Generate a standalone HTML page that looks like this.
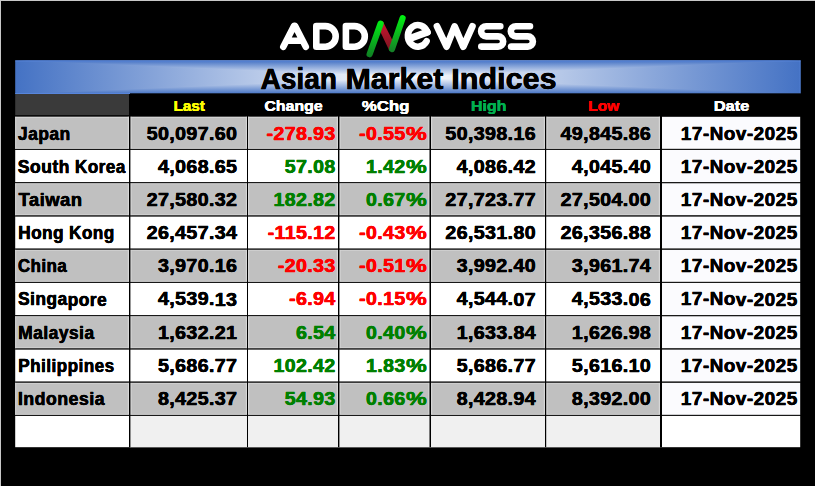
<!DOCTYPE html>
<html><head><meta charset="utf-8"><title>Asian Market Indices</title>
<style>
html,body{margin:0;padding:0;background:#000;}
body{width:815px;height:486px;position:relative;overflow:hidden;font-family:"Liberation Sans",sans-serif;font-weight:bold;}
svg{position:absolute;left:0;top:0;}
.t{position:absolute;left:0;top:0;white-space:nowrap;display:block;line-height:1;transform-origin:0 0;-webkit-text-stroke:0.3px currentColor;text-shadow:0.15px 0 0 currentColor,-0.15px 0 0 currentColor;}
.b{font-size:18.0px;color:#000;}
.n{letter-spacing:0.3px;}
.l{letter-spacing:0.5px;}
.h{font-size:15.4px;-webkit-text-stroke:0.12px currentColor;text-shadow:0.12px 0 0 currentColor,-0.12px 0 0 currentColor;}
.r{color:#ff0000}.g{color:#008000}
</style></head><body>

<svg width="815" height="486" viewBox="0 0 815 486">
<defs>
<linearGradient id="gg1" gradientUnits="userSpaceOnUse" x1="0" y1="21" x2="0" y2="57"><stop offset="0" stop-color="#00ee14"/><stop offset="1" stop-color="#107e24"/></linearGradient>
<linearGradient id="gg2" gradientUnits="userSpaceOnUse" x1="0" y1="15" x2="0" y2="52"><stop offset="0" stop-color="#00f410"/><stop offset="1" stop-color="#167e28"/></linearGradient>
<linearGradient id="gr" gradientUnits="userSpaceOnUse" x1="0" y1="22" x2="0" y2="50"><stop offset="0" stop-color="#cc1430"/><stop offset="1" stop-color="#7c1620"/></linearGradient>
<linearGradient id="bh" gradientUnits="userSpaceOnUse" x1="15.2" y1="0" x2="800.6" y2="0"><stop offset="0" stop-color="#4472c4"/><stop offset="0.5" stop-color="#ffffff"/><stop offset="1" stop-color="#4472c4"/></linearGradient>
<linearGradient id="bt" gradientUnits="userSpaceOnUse" x1="0" y1="60.4" x2="0" y2="77.2"><stop offset="0" stop-color="#4472c4"/><stop offset="1" stop-color="#ffffff"/></linearGradient>
<linearGradient id="bb" gradientUnits="userSpaceOnUse" x1="0" y1="94" x2="0" y2="77.2"><stop offset="0" stop-color="#4472c4"/><stop offset="1" stop-color="#ffffff"/></linearGradient>
</defs>
<rect x="0" y="0" width="815" height="1" fill="#c8c8c8"/><rect x="0" y="0" width="1" height="486" fill="#c8c8c8"/>
<rect x="15.2" y="60.4" width="785.4" height="33.6" fill="url(#bh)"/>
<polygon points="15.2,60.4 800.6,60.4 407.9,77.2" fill="url(#bt)"/>
<polygon points="15.2,94 800.6,94 407.9,77.2" fill="url(#bb)"/>
<rect x="15.2" y="60.4" width="785.4" height="1" fill="#5b8ae0" opacity="0.8"/>
<rect x="15.2" y="93" width="785.4" height="1" fill="#5b8ae0" opacity="0.8"/>
<rect x="799.6" y="60.4" width="1" height="33.6" fill="#5b8ae0" opacity="0.6"/>
<rect x="130" y="93.3" width="671" height="23" fill="#000"/>
<rect x="15.2" y="94" width="113.8" height="21.2" fill="#3a3a3a"/>
<rect x="15.2" y="116.80" width="644.8" height="32.10" fill="#c0c0c0"/>
<rect x="660" y="116.80" width="140.20000000000005" height="32.10" fill="#fbfbfe"/>
<rect x="15.2" y="149.90" width="644.8" height="32.25" fill="#ffffff"/>
<rect x="660" y="149.90" width="140.20000000000005" height="32.25" fill="#fbfbfe"/>
<rect x="15.2" y="183.15" width="644.8" height="32.25" fill="#c0c0c0"/>
<rect x="660" y="183.15" width="140.20000000000005" height="32.25" fill="#fbfbfe"/>
<rect x="15.2" y="216.40" width="644.8" height="32.25" fill="#ffffff"/>
<rect x="660" y="216.40" width="140.20000000000005" height="32.25" fill="#fbfbfe"/>
<rect x="15.2" y="249.65" width="644.8" height="32.25" fill="#c0c0c0"/>
<rect x="660" y="249.65" width="140.20000000000005" height="32.25" fill="#fbfbfe"/>
<rect x="15.2" y="282.90" width="644.8" height="32.25" fill="#ffffff"/>
<rect x="660" y="282.90" width="140.20000000000005" height="32.25" fill="#fbfbfe"/>
<rect x="15.2" y="316.15" width="644.8" height="32.25" fill="#c0c0c0"/>
<rect x="660" y="316.15" width="140.20000000000005" height="32.25" fill="#fbfbfe"/>
<rect x="15.2" y="349.40" width="644.8" height="32.25" fill="#ffffff"/>
<rect x="660" y="349.40" width="140.20000000000005" height="32.25" fill="#fbfbfe"/>
<rect x="15.2" y="382.65" width="644.8" height="32.25" fill="#c0c0c0"/>
<rect x="660" y="382.65" width="140.20000000000005" height="32.25" fill="#fbfbfe"/>
<rect x="15.2" y="415.90" width="785.0" height="31.30" fill="#ffffff"/>
<rect x="130" y="415.90" width="530" height="31.30" fill="#f0f0f0"/>
<rect x="15.2" y="116.80" width="644.8" height="1" fill="#d6d6d6"/>
<rect x="15.2" y="147.90" width="644.8" height="1" fill="#d6d6d6"/>
<rect x="127.80" y="116.80" width="1.2" height="32.10" fill="#d6d6d6"/>
<rect x="130.40" y="116.80" width="1.2" height="32.10" fill="#d6d6d6"/>
<rect x="245.80" y="116.80" width="1.2" height="32.10" fill="#d6d6d6"/>
<rect x="248.00" y="116.80" width="1.2" height="32.10" fill="#d6d6d6"/>
<rect x="336.80" y="116.80" width="1.2" height="32.10" fill="#d6d6d6"/>
<rect x="339.40" y="116.80" width="1.2" height="32.10" fill="#d6d6d6"/>
<rect x="428.30" y="116.80" width="1.2" height="32.10" fill="#d6d6d6"/>
<rect x="431.00" y="116.80" width="1.2" height="32.10" fill="#d6d6d6"/>
<rect x="543.80" y="116.80" width="1.2" height="32.10" fill="#d6d6d6"/>
<rect x="546.20" y="116.80" width="1.2" height="32.10" fill="#d6d6d6"/>
<rect x="658.80" y="116.80" width="1.2" height="32.10" fill="#d6d6d6"/>
<rect x="15.2" y="116.80" width="1" height="32.10" fill="#d6d6d6"/>
<rect x="15.2" y="183.15" width="644.8" height="1" fill="#d6d6d6"/>
<rect x="15.2" y="214.40" width="644.8" height="1" fill="#d6d6d6"/>
<rect x="127.80" y="183.15" width="1.2" height="32.25" fill="#d6d6d6"/>
<rect x="130.40" y="183.15" width="1.2" height="32.25" fill="#d6d6d6"/>
<rect x="245.80" y="183.15" width="1.2" height="32.25" fill="#d6d6d6"/>
<rect x="248.00" y="183.15" width="1.2" height="32.25" fill="#d6d6d6"/>
<rect x="336.80" y="183.15" width="1.2" height="32.25" fill="#d6d6d6"/>
<rect x="339.40" y="183.15" width="1.2" height="32.25" fill="#d6d6d6"/>
<rect x="428.30" y="183.15" width="1.2" height="32.25" fill="#d6d6d6"/>
<rect x="431.00" y="183.15" width="1.2" height="32.25" fill="#d6d6d6"/>
<rect x="543.80" y="183.15" width="1.2" height="32.25" fill="#d6d6d6"/>
<rect x="546.20" y="183.15" width="1.2" height="32.25" fill="#d6d6d6"/>
<rect x="658.80" y="183.15" width="1.2" height="32.25" fill="#d6d6d6"/>
<rect x="15.2" y="183.15" width="1" height="32.25" fill="#d6d6d6"/>
<rect x="15.2" y="249.65" width="644.8" height="1" fill="#d6d6d6"/>
<rect x="15.2" y="280.90" width="644.8" height="1" fill="#d6d6d6"/>
<rect x="127.80" y="249.65" width="1.2" height="32.25" fill="#d6d6d6"/>
<rect x="130.40" y="249.65" width="1.2" height="32.25" fill="#d6d6d6"/>
<rect x="245.80" y="249.65" width="1.2" height="32.25" fill="#d6d6d6"/>
<rect x="248.00" y="249.65" width="1.2" height="32.25" fill="#d6d6d6"/>
<rect x="336.80" y="249.65" width="1.2" height="32.25" fill="#d6d6d6"/>
<rect x="339.40" y="249.65" width="1.2" height="32.25" fill="#d6d6d6"/>
<rect x="428.30" y="249.65" width="1.2" height="32.25" fill="#d6d6d6"/>
<rect x="431.00" y="249.65" width="1.2" height="32.25" fill="#d6d6d6"/>
<rect x="543.80" y="249.65" width="1.2" height="32.25" fill="#d6d6d6"/>
<rect x="546.20" y="249.65" width="1.2" height="32.25" fill="#d6d6d6"/>
<rect x="658.80" y="249.65" width="1.2" height="32.25" fill="#d6d6d6"/>
<rect x="15.2" y="249.65" width="1" height="32.25" fill="#d6d6d6"/>
<rect x="15.2" y="316.15" width="644.8" height="1" fill="#d6d6d6"/>
<rect x="15.2" y="347.40" width="644.8" height="1" fill="#d6d6d6"/>
<rect x="127.80" y="316.15" width="1.2" height="32.25" fill="#d6d6d6"/>
<rect x="130.40" y="316.15" width="1.2" height="32.25" fill="#d6d6d6"/>
<rect x="245.80" y="316.15" width="1.2" height="32.25" fill="#d6d6d6"/>
<rect x="248.00" y="316.15" width="1.2" height="32.25" fill="#d6d6d6"/>
<rect x="336.80" y="316.15" width="1.2" height="32.25" fill="#d6d6d6"/>
<rect x="339.40" y="316.15" width="1.2" height="32.25" fill="#d6d6d6"/>
<rect x="428.30" y="316.15" width="1.2" height="32.25" fill="#d6d6d6"/>
<rect x="431.00" y="316.15" width="1.2" height="32.25" fill="#d6d6d6"/>
<rect x="543.80" y="316.15" width="1.2" height="32.25" fill="#d6d6d6"/>
<rect x="546.20" y="316.15" width="1.2" height="32.25" fill="#d6d6d6"/>
<rect x="658.80" y="316.15" width="1.2" height="32.25" fill="#d6d6d6"/>
<rect x="15.2" y="316.15" width="1" height="32.25" fill="#d6d6d6"/>
<rect x="15.2" y="382.65" width="644.8" height="1" fill="#d6d6d6"/>
<rect x="15.2" y="413.90" width="644.8" height="1" fill="#d6d6d6"/>
<rect x="127.80" y="382.65" width="1.2" height="32.25" fill="#d6d6d6"/>
<rect x="130.40" y="382.65" width="1.2" height="32.25" fill="#d6d6d6"/>
<rect x="245.80" y="382.65" width="1.2" height="32.25" fill="#d6d6d6"/>
<rect x="248.00" y="382.65" width="1.2" height="32.25" fill="#d6d6d6"/>
<rect x="336.80" y="382.65" width="1.2" height="32.25" fill="#d6d6d6"/>
<rect x="339.40" y="382.65" width="1.2" height="32.25" fill="#d6d6d6"/>
<rect x="428.30" y="382.65" width="1.2" height="32.25" fill="#d6d6d6"/>
<rect x="431.00" y="382.65" width="1.2" height="32.25" fill="#d6d6d6"/>
<rect x="543.80" y="382.65" width="1.2" height="32.25" fill="#d6d6d6"/>
<rect x="546.20" y="382.65" width="1.2" height="32.25" fill="#d6d6d6"/>
<rect x="658.80" y="382.65" width="1.2" height="32.25" fill="#d6d6d6"/>
<rect x="15.2" y="382.65" width="1" height="32.25" fill="#d6d6d6"/>
<rect x="15.2" y="148.90" width="785.0" height="1" fill="#181818"/>
<rect x="15.2" y="182.15" width="785.0" height="1" fill="#181818"/>
<rect x="15.2" y="215.40" width="785.0" height="1" fill="#181818"/>
<rect x="15.2" y="248.65" width="785.0" height="1" fill="#181818"/>
<rect x="15.2" y="281.90" width="785.0" height="1" fill="#181818"/>
<rect x="15.2" y="315.15" width="785.0" height="1" fill="#181818"/>
<rect x="15.2" y="348.40" width="785.0" height="1" fill="#181818"/>
<rect x="15.2" y="381.65" width="785.0" height="1" fill="#181818"/>
<rect x="15.2" y="414.90" width="785.0" height="1" fill="#181818"/>
<rect x="129" y="115.8" width="1.4" height="331.40" fill="#000"/>
<rect x="247" y="115.8" width="1.0" height="331.40" fill="#000"/>
<rect x="338" y="115.8" width="1.4" height="331.40" fill="#000"/>
<rect x="429.5" y="115.8" width="1.5" height="331.40" fill="#000"/>
<rect x="545" y="115.8" width="1.2" height="331.40" fill="#000"/>
<rect x="660" y="115.8" width="2.0" height="331.40" fill="#000"/>
<g fill="none" stroke="#fff" stroke-width="6.6" stroke-linecap="round" stroke-linejoin="round">
<path d="M283.3,46.7 L294.1,25.8 L295.0,25.8 L305.8,46.7 M288,40.7 H301.2"/>
<path d="M316.3,26.1 H325.4 A10.3,10.3 0 0 1 325.4,46.7 H316.3 Z"/>
<path d="M345.9,26.1 H354.5 A10.3,10.3 0 0 1 354.5,46.7 H345.9 Z"/>
<path d="M427.3,32.2 A10,10.8 0 1 0 426.6,41.2"/>
<path d="M409.5,38.6 L427.3,32.2" stroke-width="7.2"/>
<path d="M437.0,26.4 L446.6,46.6 L454.6,26.4 L463.3,46.6 L472.4,26.4" stroke-width="6.8"/>
<path d="M500.3,26.2 H486.2 A5.1,5.1 0 0 0 486.2,36.4 H498.1 A5.1,5.1 0 0 1 498.1,46.6 H481.3"/>
<path d="M530.0,26.2 H515.9 A5.1,5.1 0 0 0 515.9,36.4 H527.8 A5.1,5.1 0 0 1 527.8,46.6 H511.0"/>
</g>
<polygon points="380.6,21.6 382.9,21.6 392.6,40.6 392.4,50 389,50 379.5,30" fill="url(#gr)"/>
<g fill="none" stroke-width="6.2" stroke-linecap="round">
<path d="M369.6,54.2 L380.6,23.6" stroke="url(#gg1)"/>
<path d="M392.0,49 L402.6,18.2" stroke="url(#gg2)"/>
</g>
</svg>
<div class="t " style="font-size:29.0px;color:#000;transform:matrix(0.9665,0.0004,0,1,260.62,64.93);">Asian</div>
<div class="t " style="font-size:29.0px;color:#000;transform:matrix(1.0459,0.0004,0,1,345.57,64.93);">Market</div>
<div class="t " style="font-size:29.0px;color:#000;transform:matrix(1.0543,0.0004,0,1,451.25,64.93);">Indices</div>
<div class="t h" style="transform:matrix(0.9886,0.0004,0,1,173.53,98.43);color:#ffff00;">Last</div>
<div class="t h" style="transform:matrix(1.0319,0.0004,0,1,264.38,98.43);color:#ffffff;">Change</div>
<div class="t h" style="transform:matrix(1.0918,0.0004,0,1,361.83,98.43);color:#ffffff;">%Chg</div>
<div class="t h" style="transform:matrix(1.0400,0.0004,0,1,470.89,98.43);color:#00b050;">High</div>
<div class="t h" style="transform:matrix(1.0058,0.0004,0,1,588.22,98.43);color:#ff0000;">Low</div>
<div class="t h" style="transform:matrix(1.0646,0.0004,0,1,713.77,98.43);color:#ffffff;">Date</div>
<div class="t b l" style="transform:matrix(0.9660,0.0004,0,1,17.98,124.62);">Japan</div>
<div class="t b n" style="transform:matrix(1.0945,0.0004,0,1,146.69,124.62);">50,097.60</div>
<div class="t b n r" style="transform:matrix(1.0945,0.0004,0,1,266.53,124.62);">-278.93</div>
<div class="t b n r" style="transform:matrix(1.0945,0.0004,0,1,359.07,124.62);">-0.55</div>
<div class="t b r" style="transform:matrix(1.2968,0.0004,0,1,405.98,124.62);">%</div>
<div class="t b n" style="transform:matrix(1.0945,0.0004,0,1,445.35,124.62);">50,398.16</div>
<div class="t b n" style="transform:matrix(1.0945,0.0004,0,1,560.55,124.62);">49,845.86</div>
<div class="t b l" style="transform:matrix(1.0478,0.0004,0,1,680.85,124.62);">17-Nov-2025</div>
<div class="t b l" style="transform:matrix(0.9763,0.0004,0,1,17.73,157.79);">South</div>
<div class="t b l" style="transform:matrix(0.9512,0.0004,0,1,74.95,157.79);">Korea</div>
<div class="t b n" style="transform:matrix(1.0945,0.0004,0,1,157.98,157.79);">4,068.65</div>
<div class="t b n g" style="transform:matrix(1.0945,0.0004,0,1,284.71,157.79);">57.08</div>
<div class="t b n g" style="transform:matrix(1.0945,0.0004,0,1,365.96,157.79);">1.42</div>
<div class="t b g" style="transform:matrix(1.2968,0.0004,0,1,405.98,157.79);">%</div>
<div class="t b n" style="transform:matrix(1.0945,0.0004,0,1,456.64,157.79);">4,086.42</div>
<div class="t b n" style="transform:matrix(1.0945,0.0004,0,1,571.84,157.79);">4,045.40</div>
<div class="t b l" style="transform:matrix(1.0478,0.0004,0,1,680.85,157.79);">17-Nov-2025</div>
<div class="t b l" style="transform:matrix(1.0204,0.0004,0,1,18.60,190.97);">Taiwan</div>
<div class="t b n" style="transform:matrix(1.0945,0.0004,0,1,146.69,190.97);">27,580.32</div>
<div class="t b n g" style="transform:matrix(1.0945,0.0004,0,1,273.42,190.97);">182.82</div>
<div class="t b n g" style="transform:matrix(1.0945,0.0004,0,1,365.96,190.97);">0.67</div>
<div class="t b g" style="transform:matrix(1.2968,0.0004,0,1,405.98,190.97);">%</div>
<div class="t b n" style="transform:matrix(1.0945,0.0004,0,1,445.35,190.97);">27,723.77</div>
<div class="t b n" style="transform:matrix(1.0945,0.0004,0,1,560.55,190.97);">27,504.00</div>
<div class="t b l" style="transform:matrix(1.0478,0.0004,0,1,680.85,190.97);">17-Nov-2025</div>
<div class="t b l" style="transform:matrix(0.9538,0.0004,0,1,18.25,224.14);">Hong</div>
<div class="t b l" style="transform:matrix(0.9516,0.0004,0,1,69.05,224.14);">Kong</div>
<div class="t b n" style="transform:matrix(1.0945,0.0004,0,1,146.69,224.14);">26,457.34</div>
<div class="t b n r" style="transform:matrix(1.0945,0.0004,0,1,267.63,224.14);">-115.12</div>
<div class="t b n r" style="transform:matrix(1.0945,0.0004,0,1,359.07,224.14);">-0.43</div>
<div class="t b r" style="transform:matrix(1.2968,0.0004,0,1,405.98,224.14);">%</div>
<div class="t b n" style="transform:matrix(1.0945,0.0004,0,1,445.35,224.14);">26,531.80</div>
<div class="t b n" style="transform:matrix(1.0945,0.0004,0,1,560.55,224.14);">26,356.88</div>
<div class="t b l" style="transform:matrix(1.0478,0.0004,0,1,680.85,224.14);">17-Nov-2025</div>
<div class="t b l" style="transform:matrix(0.9391,0.0004,0,1,17.93,257.30);">China</div>
<div class="t b n" style="transform:matrix(1.0945,0.0004,0,1,157.98,257.30);">3,970.16</div>
<div class="t b n r" style="transform:matrix(1.0945,0.0004,0,1,277.82,257.30);">-20.33</div>
<div class="t b n r" style="transform:matrix(1.0945,0.0004,0,1,359.07,257.30);">-0.51</div>
<div class="t b r" style="transform:matrix(1.2968,0.0004,0,1,405.98,257.30);">%</div>
<div class="t b n" style="transform:matrix(1.0945,0.0004,0,1,456.64,257.30);">3,992.40</div>
<div class="t b n" style="transform:matrix(1.0945,0.0004,0,1,571.84,257.30);">3,961.74</div>
<div class="t b l" style="transform:matrix(1.0478,0.0004,0,1,680.85,257.30);">17-Nov-2025</div>
<div class="t b l" style="transform:matrix(0.9633,0.0004,0,1,18.04,290.48);">Singapore</div>
<div class="t b n" style="transform:matrix(1.0945,0.0004,0,1,157.98,290.48);">4,539.13</div>
<div class="t b n r" style="transform:matrix(1.0945,0.0004,0,1,289.11,290.48);">-6.94</div>
<div class="t b n r" style="transform:matrix(1.0945,0.0004,0,1,359.07,290.48);">-0.15</div>
<div class="t b r" style="transform:matrix(1.2968,0.0004,0,1,405.98,290.48);">%</div>
<div class="t b n" style="transform:matrix(1.0945,0.0004,0,1,456.64,290.48);">4,544.07</div>
<div class="t b n" style="transform:matrix(1.0945,0.0004,0,1,571.84,290.48);">4,533.06</div>
<div class="t b l" style="transform:matrix(1.0478,0.0004,0,1,680.85,290.48);">17-Nov-2025</div>
<div class="t b l" style="transform:matrix(0.9657,0.0004,0,1,18.23,323.64);">Malaysia</div>
<div class="t b n" style="transform:matrix(1.0945,0.0004,0,1,157.98,323.64);">1,632.21</div>
<div class="t b n g" style="transform:matrix(1.0945,0.0004,0,1,296.00,323.64);">6.54</div>
<div class="t b n g" style="transform:matrix(1.0945,0.0004,0,1,365.96,323.64);">0.40</div>
<div class="t b g" style="transform:matrix(1.2968,0.0004,0,1,405.98,323.64);">%</div>
<div class="t b n" style="transform:matrix(1.0945,0.0004,0,1,456.64,323.64);">1,633.84</div>
<div class="t b n" style="transform:matrix(1.0945,0.0004,0,1,571.84,323.64);">1,626.98</div>
<div class="t b l" style="transform:matrix(1.0478,0.0004,0,1,680.85,323.64);">17-Nov-2025</div>
<div class="t b l" style="transform:matrix(0.9497,0.0004,0,1,18.25,356.81);">Philippines</div>
<div class="t b n" style="transform:matrix(1.0945,0.0004,0,1,157.98,356.81);">5,686.77</div>
<div class="t b n g" style="transform:matrix(1.0945,0.0004,0,1,273.42,356.81);">102.42</div>
<div class="t b n g" style="transform:matrix(1.0945,0.0004,0,1,365.96,356.81);">1.83</div>
<div class="t b g" style="transform:matrix(1.2968,0.0004,0,1,405.98,356.81);">%</div>
<div class="t b n" style="transform:matrix(1.0945,0.0004,0,1,456.64,356.81);">5,686.77</div>
<div class="t b n" style="transform:matrix(1.0945,0.0004,0,1,571.84,356.81);">5,616.10</div>
<div class="t b l" style="transform:matrix(1.0478,0.0004,0,1,680.85,356.81);">17-Nov-2025</div>
<div class="t b l" style="transform:matrix(0.9845,0.0004,0,1,17.92,389.99);">Indonesia</div>
<div class="t b n" style="transform:matrix(1.0945,0.0004,0,1,157.98,389.99);">8,425.37</div>
<div class="t b n g" style="transform:matrix(1.0945,0.0004,0,1,284.71,389.99);">54.93</div>
<div class="t b n g" style="transform:matrix(1.0945,0.0004,0,1,365.96,389.99);">0.66</div>
<div class="t b g" style="transform:matrix(1.2968,0.0004,0,1,405.98,389.99);">%</div>
<div class="t b n" style="transform:matrix(1.0945,0.0004,0,1,456.64,389.99);">8,428.94</div>
<div class="t b n" style="transform:matrix(1.0945,0.0004,0,1,571.84,389.99);">8,392.00</div>
<div class="t b l" style="transform:matrix(1.0478,0.0004,0,1,680.85,389.99);">17-Nov-2025</div>
</body></html>
